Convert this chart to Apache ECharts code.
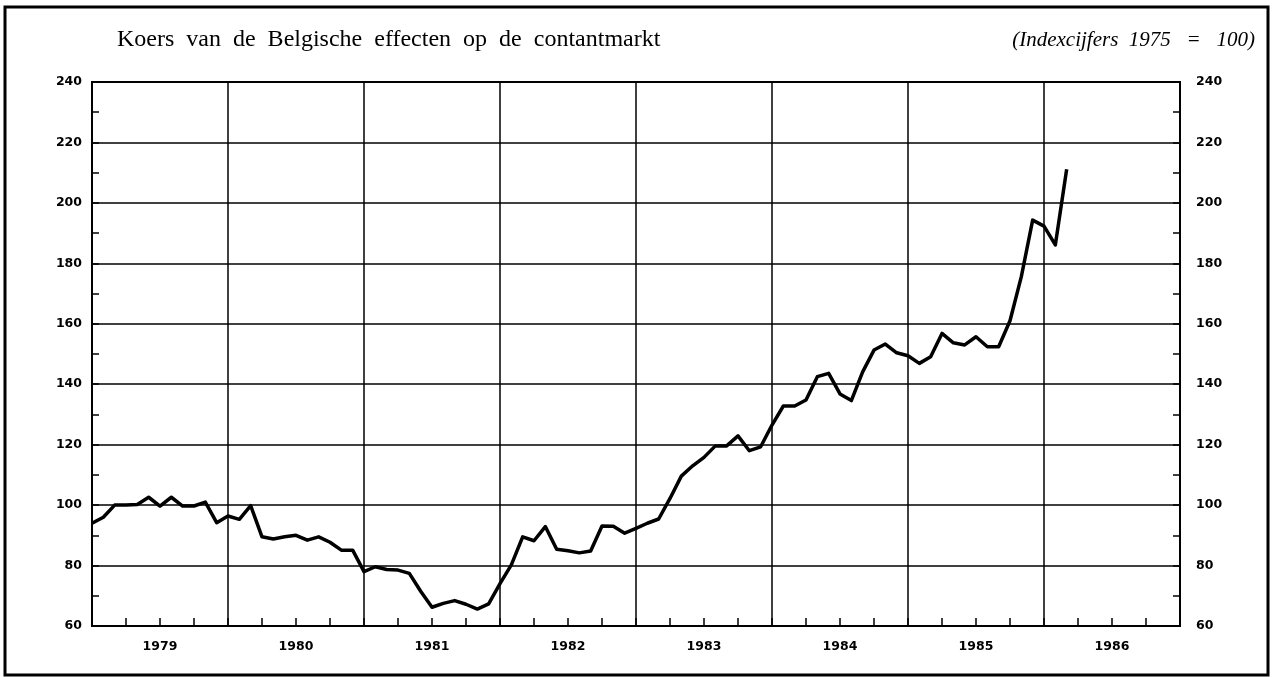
<!DOCTYPE html>
<html>
<head>
<meta charset="utf-8">
<script src="https://cdn.jsdelivr.net/npm/echarts@6/dist/echarts.min.js"></script>
<style>
  html, body { margin: 0; padding: 0; background: #fff; }
  #chart { width: 1276px; height: 677px; }
</style>
</head>
<body>
<div id="chart"></div>
<script>
// jaren op de x-as
const years = ['1979', '1980', '1981', '1982', '1983', '1984', '1985', '1986']
const yTicks = [60, 80, 100, 120, 140, 160, 180, 200, 220, 240]

// maandelijkse indexcijfers, januari 1979 t/m maart 1986 (1975 = 100)
const indexValues = [
  94.0, 96.0, 100.0, 100.0, 100.2, 102.6, 99.7, 102.6, 99.7, 99.7, 101.0, 94.2,
  96.4, 95.3, 99.8, 89.5, 88.8, 89.5, 90.0, 88.4, 89.5, 87.7, 85.1, 85.1,
  78.0, 79.6, 78.7, 78.5, 77.4, 71.5, 66.2, 67.5, 68.4, 67.2, 65.6, 67.3,
  74.0, 80.2, 89.5, 88.2, 92.9, 85.4, 84.9, 84.2, 84.8, 93.1, 93.0, 90.7,
  92.3, 94.0, 95.4, 102.2, 109.6, 113.0, 115.8, 119.6, 119.6, 122.9, 118.0, 119.3,
  126.5, 132.8, 132.8, 134.8, 142.5, 143.6, 136.8, 134.6, 144.1, 151.3, 153.3, 150.4,
  149.4, 146.9, 149.1, 156.8, 153.7, 153.0, 155.7, 152.4, 152.4, 161.0, 175.6, 194.3,
  192.3, 186.1, 211.1
]

const chart = echarts.init(document.getElementById('chart'))

const labelFont = {
  color: '#000',
  fontFamily: 'DejaVu Sans, Liberation Sans, sans-serif',
  fontWeight: 'bold',
  fontSize: 12.5
}

const yAxisBase = {
  type: 'value',
  min: yTicks[0],
  max: yTicks[yTicks.length - 1],
  interval: 20,
  axisLine: { show: true, lineStyle: { color: '#000', width: 2 } },
  axisTick: { show: true, inside: true, length: 7, lineStyle: { color: '#000', width: 1.5 } },
  minorTick: { show: true, splitNumber: 2, length: 7, lineStyle: { color: '#000', width: 1.5 } }
}

const option = {
  backgroundColor: '#fff',
  animation: false,
  title: [
    {
      text: 'Koers  van  de  Belgische  effecten  op  de  contantmarkt',
      left: 112,
      top: 23,
      textStyle: {
        fontFamily: 'Liberation Serif, Times New Roman, serif',
        fontWeight: 'normal',
        fontSize: 24,
        color: '#000'
      }
    },
    {
      text: '(Indexcijfers  1975   =   100)',
      right: 16,
      top: 25,
      textStyle: {
        fontFamily: 'Liberation Serif, Times New Roman, serif',
        fontStyle: 'italic',
        fontWeight: 'normal',
        fontSize: 21,
        color: '#000'
      }
    }
  ],
  graphic: [
    {
      type: 'rect',
      shape: { x: 5, y: 7, width: 1263, height: 668 },
      style: { fill: 'none', stroke: '#000', lineWidth: 3 },
      silent: true
    }
  ],
  grid: {
    left: 92,
    right: 96,
    top: 82,
    bottom: 51,
    show: true,
    borderColor: '#000',
    borderWidth: 2
  },
  xAxis: [
    {
      // maanden: kwartaalstreepjes
      type: 'value',
      min: 0,
      max: years.length * 12,
      interval: 3,
      axisLine: { show: true, onZero: false, lineStyle: { color: '#000', width: 2 } },
      axisTick: { show: true, inside: true, length: 8, lineStyle: { color: '#000', width: 1.5 } },
      axisLabel: { show: false },
      splitLine: { show: false }
    },
    {
      // jaren: labels en verticale scheidingslijnen
      type: 'category',
      data: years,
      boundaryGap: true,
      position: 'bottom',
      axisLine: { show: false },
      axisTick: { show: false },
      axisLabel: { ...labelFont, margin: 14, interval: 0 },
      splitLine: { show: true, interval: 0, lineStyle: { color: '#000', width: 1.5 } }
    }
  ],
  yAxis: [
    {
      ...yAxisBase,
      position: 'left',
      axisLabel: { ...labelFont, margin: 10 },
      splitLine: { show: true, lineStyle: { color: '#000', width: 1.5 } }
    },
    {
      ...yAxisBase,
      position: 'right',
      axisLabel: { ...labelFont, margin: 16 },
      splitLine: { show: false }
    }
  ],
  series: [
    {
      type: 'line',
      xAxisIndex: 0,
      yAxisIndex: 0,
      data: indexValues.map((v, i) => [i, v]),
      showSymbol: false,
      lineStyle: { color: '#000', width: 3.5, join: 'round' },
      z: 5
    }
  ]
}

chart.setOption(option)
</script>
</body>
</html>
